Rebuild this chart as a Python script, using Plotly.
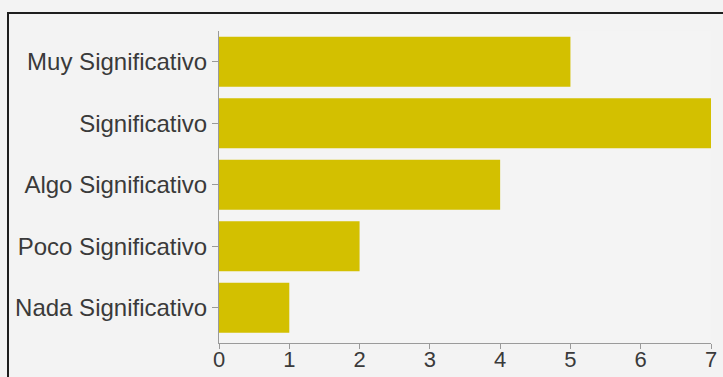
import plotly.graph_objects as go

categories = ["Muy Significativo", "Significativo", "Algo Significativo", "Poco Significativo", "Nada Significativo"]
values = [5, 7, 4, 2, 1]
x_ticks = [0, 1, 2, 3, 4, 5, 6, 7]

W, H = 723, 377
L, R, T, B = 219, 12, 31, 34

fig = go.Figure(go.Bar(
    x=values, y=categories, orientation="h",
    marker=dict(color="#d3c000", line=dict(width=0)),
    hoverinfo="skip",
))

pw = W - L - R
ph = H - T - B
def px_x(p):
    return (p - L) / pw
def px_y(p):
    return 1 - (p - T) / ph

fig.add_shape(type="rect", xref="paper", yref="paper",
              x0=px_x(8), x1=px_x(W + 20), y0=px_y(H + 20), y1=px_y(13),
              line=dict(color="#1e1e1e", width=2), fillcolor="rgba(0,0,0,0)", layer="below")

fig.update_layout(
    width=W, height=H,
    margin=dict(l=L, r=R, t=T, b=B, autoexpand=False),
    paper_bgcolor="#f3f3f3", plot_bgcolor="#f4f4f4",
    bargap=0.19,
    showlegend=False,
    font=dict(family="Liberation Sans, Arial, sans-serif", color="#3a3a3a", size=22),
    xaxis=dict(range=[0, 7], tickvals=x_ticks, ticktext=[str(v) for v in x_ticks],
               automargin=False, ticklabelstandoff=-8,
               showgrid=False, zeroline=False, showline=True, linecolor="#9a9a9a", linewidth=1,
               ticks="outside", ticklen=5, tickcolor="#9a9a9a", tickfont=dict(size=22)),
    yaxis=dict(range=[4.573, -0.5], automargin=False, showgrid=False, zeroline=False, showline=True,
               linecolor="#9a9a9a", linewidth=1, ticks="outside", ticklen=6, tickcolor="#9a9a9a",
               tickfont=dict(size=24)),
)

fig.write_html("out.html", config={"displayModeBar": False, "staticPlot": True},
               post_script="document.body.style.margin='0';document.body.style.overflow='hidden';document.body.style.background='#f3f3f3';")
